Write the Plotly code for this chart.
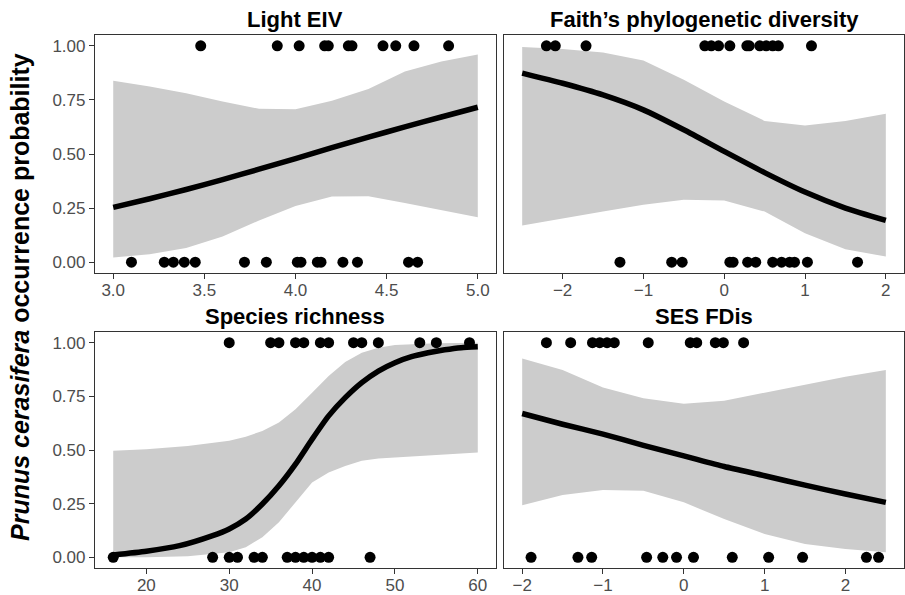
import plotly.graph_objects as go

# ---------------- data ----------------
panel_titles = ["Light EIV", "Faith\u2019s phylogenetic diversity", "Species richness", "SES FDis"]

# Light EIV
light_pres = [3.48, 3.90, 4.02, 4.16, 4.18, 4.29, 4.31, 4.48, 4.55, 4.65, 4.84]
light_abs = [3.10, 3.28, 3.33, 3.39, 3.45, 3.72, 3.84, 4.01, 4.03, 4.12, 4.14, 4.26, 4.34, 4.62, 4.67]
light_x = [3.0, 3.2, 3.4, 3.6, 3.8, 4.0, 4.2, 4.4, 4.6, 4.8, 5.0]
light_fit = [0.253, 0.293, 0.336, 0.382, 0.430, 0.479, 0.529, 0.578, 0.625, 0.671, 0.716]
light_up = [0.838, 0.812, 0.781, 0.743, 0.709, 0.707, 0.746, 0.800, 0.881, 0.927, 0.960]
light_lo = [0.022, 0.037, 0.065, 0.119, 0.193, 0.260, 0.304, 0.305, 0.273, 0.242, 0.208]

# Faith's phylogenetic diversity
faith_pres = [-2.20, -2.09, -1.71, -0.24, -0.16, -0.07, 0.07, 0.28, 0.31, 0.44, 0.52, 0.60, 0.67, 1.08]
faith_abs = [-1.29, -0.65, -0.52, 0.07, 0.11, 0.29, 0.39, 0.60, 0.71, 0.81, 0.87, 1.03, 1.65]
faith_x = [-2.5, -2.0, -1.5, -1.0, -0.5, 0.0, 0.5, 1.0, 1.5, 2.0]
faith_fit = [0.874, 0.827, 0.773, 0.704, 0.612, 0.512, 0.414, 0.324, 0.250, 0.193]
faith_up = [0.994, 0.985, 0.969, 0.932, 0.843, 0.743, 0.653, 0.632, 0.653, 0.686]
faith_lo = [0.169, 0.203, 0.234, 0.265, 0.288, 0.285, 0.234, 0.134, 0.060, 0.026]

# Species richness
rich_pres = [30, 35, 36, 38, 39, 41, 42, 45, 46, 48, 53, 55, 59]
rich_abs = [16, 28, 30, 31, 33, 34, 37, 38, 39, 40, 41, 42, 47]
rich_x = [16, 20, 24, 28, 30, 32, 34, 36, 38, 40, 42, 44, 46, 48, 50, 52, 54, 56, 58, 60]
rich_fit = [0.011, 0.028, 0.054, 0.101, 0.132, 0.178, 0.248, 0.333, 0.434, 0.550,
            0.659, 0.744, 0.814, 0.868, 0.907, 0.935, 0.953, 0.967, 0.977, 0.981]
rich_band_x = [16, 20, 25, 30, 32, 34, 36, 38, 40, 42, 44, 46, 48, 50, 55, 60]
rich_up = [0.496, 0.504, 0.519, 0.543, 0.562, 0.589, 0.628, 0.690, 0.767, 0.845,
           0.910, 0.953, 0.977, 0.989, 0.997, 1.000]
rich_lo = [0.000, 0.000, 0.005, 0.023, 0.047, 0.093, 0.163, 0.256, 0.349, 0.395,
           0.426, 0.450, 0.460, 0.465, 0.476, 0.488]

# SES FDis
fdis_pres = [-1.70, -1.40, -1.13, -1.04, -0.95, -0.86, -0.44, 0.08, 0.16, 0.39, 0.49, 0.74]
fdis_abs = [-1.89, -1.31, -1.14, -0.46, -0.26, -0.09, 0.12, 0.60, 1.05, 1.47, 2.26, 2.41]
fdis_x = [-2.0, -1.5, -1.0, -0.5, 0.0, 0.5, 1.0, 1.5, 2.0, 2.5]
fdis_fit = [0.670, 0.620, 0.574, 0.522, 0.473, 0.423, 0.380, 0.336, 0.295, 0.256]
fdis_up = [0.927, 0.873, 0.791, 0.741, 0.716, 0.729, 0.767, 0.806, 0.842, 0.873]
fdis_lo = [0.243, 0.290, 0.313, 0.310, 0.256, 0.178, 0.109, 0.062, 0.039, 0.023]

# tick labels
y_tickvals = [0, 0.25, 0.5, 0.75, 1.0]
y_ticktext = ["0.00", "0.25", "0.50", "0.75", "1.00"]
light_ticks = [3.0, 3.5, 4.0, 4.5, 5.0]
light_ticktext = ["3.0", "3.5", "4.0", "4.5", "5.0"]
faith_ticks = [-2, -1, 0, 1, 2]
faith_ticktext = ["\u22122", "\u22121", "0", "1", "2"]
rich_ticks = [20, 30, 40, 50, 60]
rich_ticktext = ["20", "30", "40", "50", "60"]
fdis_ticks = [-2, -1, 0, 1, 2]
fdis_ticktext = ["\u22122", "\u22121", "0", "1", "2"]

y_title = "<b><i>Prunus cerasifera</i> occurrence probability</b>"

# ---------------- figure ----------------
W, H = 905, 595
FONT = "Liberation Sans, Arial, Helvetica, sans-serif"
BAND = "#cccccc"

panels = [
    dict(ax="", band_x=light_x, up=light_up, lo=light_lo, fx=light_x, fit=light_fit,
         pres=light_pres, abs_=light_abs, rng=[2.9, 5.1], tv=light_ticks, tt=light_ticktext,
         xd=[95, 496], yd=[35, 273], left=True),
    dict(ax="2", band_x=faith_x, up=faith_up, lo=faith_lo, fx=faith_x, fit=faith_fit,
         pres=faith_pres, abs_=faith_abs, rng=[-2.725, 2.225], tv=faith_ticks, tt=faith_ticktext,
         xd=[504, 904], yd=[35, 273], left=False),
    dict(ax="3", band_x=rich_band_x, up=rich_up, lo=rich_lo, fx=rich_x, fit=rich_fit,
         pres=rich_pres, abs_=rich_abs, rng=[13.8, 62.2], tv=rich_ticks, tt=rich_ticktext,
         xd=[95, 496], yd=[332, 568], left=True),
    dict(ax="4", band_x=fdis_x, up=fdis_up, lo=fdis_lo, fx=fdis_x, fit=fdis_fit,
         pres=fdis_pres, abs_=fdis_abs, rng=[-2.225, 2.725], tv=fdis_ticks, tt=fdis_ticktext,
         xd=[504, 904], yd=[332, 568], left=False),
]

fig = go.Figure()
layout = {}
annotations = []

for i, p in enumerate(panels):
    xa = "x" + p["ax"]
    ya = "y" + p["ax"]
    # ribbon
    fig.add_trace(go.Scatter(x=p["band_x"], y=p["up"], mode="lines", line=dict(width=0, color=BAND),
                             xaxis=xa, yaxis=ya, showlegend=False, hoverinfo="skip"))
    fig.add_trace(go.Scatter(x=p["band_x"], y=p["lo"], mode="lines", line=dict(width=0, color=BAND),
                             fill="tonexty", fillcolor=BAND,
                             xaxis=xa, yaxis=ya, showlegend=False, hoverinfo="skip"))
    # fitted curve
    fig.add_trace(go.Scatter(x=p["fx"], y=p["fit"], mode="lines",
                             line=dict(color="black", width=5.5, shape="spline", smoothing=0.6),
                             xaxis=xa, yaxis=ya, showlegend=False, hoverinfo="skip"))
    # points
    px = list(p["pres"]) + list(p["abs_"])
    py = [1] * len(p["pres"]) + [0] * len(p["abs_"])
    fig.add_trace(go.Scatter(x=px, y=py, mode="markers",
                             marker=dict(color="black", size=11, line=dict(width=0)),
                             xaxis=xa, yaxis=ya, showlegend=False, hoverinfo="skip"))

    xdom = [p["xd"][0] / W, p["xd"][1] / W]
    ydom = [1 - p["yd"][1] / H, 1 - p["yd"][0] / H]
    layout["xaxis" + p["ax"]] = dict(
        domain=xdom, range=p["rng"], anchor=ya, tickmode="array", tickvals=p["tv"], ticktext=p["tt"],
        showgrid=False, zeroline=False, showline=True, mirror=True, linecolor="#333333", linewidth=1.2,
        ticks="outside", ticklen=5, tickwidth=1.1, tickcolor="#333333", ticklabelstandoff=-4,
        tickfont=dict(family=FONT, size=17, color="#4d4d4d"), automargin=False, fixedrange=True)
    layout["yaxis" + p["ax"]] = dict(
        domain=ydom, range=[-0.05, 1.05], anchor=xa, tickmode="array", tickvals=y_tickvals,
        ticktext=y_ticktext if p["left"] else ["", "", "", "", ""],
        showticklabels=p["left"],
        showgrid=False, zeroline=False, showline=True, mirror=True, linecolor="#333333", linewidth=1.2,
        ticks="outside" if p["left"] else "", ticklen=5, tickwidth=1.1, tickcolor="#333333",
        tickfont=dict(family=FONT, size=17, color="#4d4d4d"), automargin=False, fixedrange=True)

    annotations.append(dict(
        text="<b>" + panel_titles[i] + "</b>", xref="paper", yref="paper",
        x=(xdom[0] + xdom[1]) / 2, y=ydom[1], xanchor="center", yanchor="bottom", yshift=1,
        showarrow=False, font=dict(family=FONT, size=22, color="black")))

annotations.append(dict(
    text=y_title, xref="paper", yref="paper", x=20 / W, y=1 - 297 / H,
    xanchor="center", yanchor="middle", textangle=-90, showarrow=False,
    font=dict(family=FONT, size=25, color="black")))

fig.update_layout(
    width=W, height=H,
    margin=dict(l=0, r=0, t=0, b=0),
    paper_bgcolor="white", plot_bgcolor="white",
    showlegend=False, hovermode=False,
    annotations=annotations,
    **layout,
)

fig.write_html("out.html", config={"displayModeBar": False},
               post_script="document.body.style.margin='0';document.body.style.overflow='hidden';")
